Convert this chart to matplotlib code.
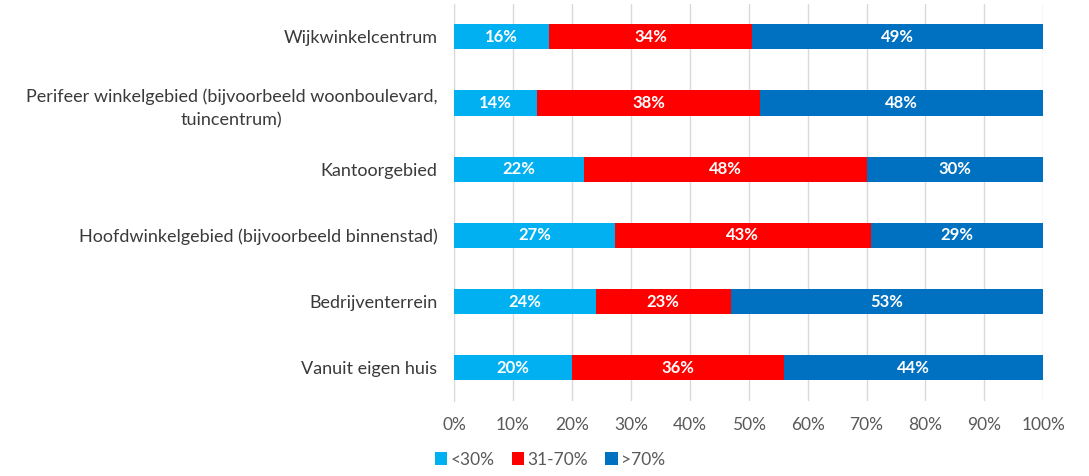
import matplotlib
matplotlib.use('Agg')
import matplotlib.pyplot as plt
import numpy as np

plt.rcParams['font.family'] = ['Lato', 'DejaVu Sans']

# categories top to bottom
categories = ['Wijkwinkelcentrum',
              'Perifeer winkelgebied (bijvoorbeeld woonboulevard,\ntuincentrum)',
              'Kantoorgebied',
              'Hoofdwinkelgebied (bijvoorbeeld binnenstad)',
              'Bedrijventerrein',
              'Vanuit eigen huis']
low  = [16, 14, 22, 27, 24, 20]   # <30%
mid  = [34, 38, 48, 43, 23, 36]   # 31-70%
high = [49, 48, 30, 29, 53, 44]   # >70%
series_names = ['<30%', '31-70%', '>70%']
colors = ['#00B0F0', '#FF0000', '#0070C0']
xticks = np.arange(0, 101, 10)

data = np.array([low, mid, high], dtype=float)
share = data / data.sum(axis=0) * 100   # 100% stacked

fig = plt.figure(figsize=(10.89, 4.76), dpi=100)
ax = fig.add_axes([0.417, 0.158, 0.541, 0.834])

y = np.arange(len(categories))
left = np.zeros(len(categories))
for i in range(3):
    ax.barh(y, share[i], left=left, height=0.38, color=colors[i],
            label=series_names[i], zorder=3)
    for j in range(len(categories)):
        ax.text(left[j] + share[i][j] / 2, y[j], f'{int(data[i][j])}%',
                ha='center', va='center', color='white', fontsize=12,
                fontweight='bold', zorder=4)
    left += share[i]

ax.set_xlim(0, 100)
ax.set_ylim(len(categories) - 0.5, -0.5)
ax.set_xticks(xticks)
ax.set_xticklabels([f'{t}%' for t in xticks], fontsize=12.5, color='#595959')
ax.set_yticks(y)
ax.set_yticklabels(categories, fontsize=13, color='#3a3a3a',
                   multialignment='center', linespacing=1.55)
ax.tick_params(axis='y', length=0, pad=12)
ax.tick_params(axis='x', length=0, pad=12)
ax.grid(axis='x', color='#D9D9D9', lw=1, zorder=0)
for s in ['top', 'right', 'bottom']:
    ax.spines[s].set_visible(False)
ax.spines['left'].set_color('#D9D9D9')

fig.legend(loc='lower center', bbox_to_anchor=(0.505, -0.015), ncol=3,
           frameon=False, fontsize=12.5, handlelength=0.7, handleheight=0.7,
           handletextpad=0.2, columnspacing=1.0, labelcolor='#595959')

fig.savefig('out.png', dpi=100)
